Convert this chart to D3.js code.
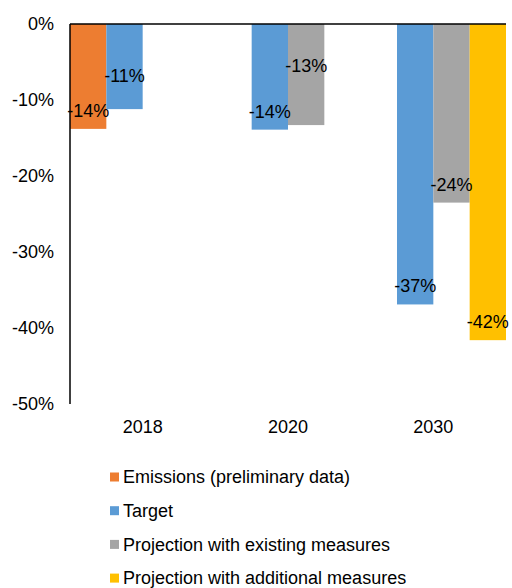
<!DOCTYPE html>
<html>
<head>
<meta charset="utf-8">
<script src="https://cdn.jsdelivr.net/npm/d3@7"></script>
<style>
  html, body { margin: 0; padding: 0; background: #fff; }
  svg { display: block; font-family: "Liberation Sans", Arial, sans-serif; }
</style>
</head>
<body>
<svg id="chart" width="512" height="588"></svg>
<script>
// Change in emissions relative to the base year, in percent
const years = ["2018", "2020", "2030"];
const seriesNames = [
  "Emissions (preliminary data)",
  "Target",
  "Projection with existing measures",
  "Projection with additional measures"
];
const seriesColors = ["#ED7D31", "#5B9BD5", "#A5A5A5", "#FFC000"];
// one array per series, aligned with years; null = no bar
const emissions = [-13.8, null, null];
const target = [-11.2, -13.9, -36.9];
const existingMeasures = [null, -13.3, -23.5];
const additionalMeasures = [null, null, -41.6];
const yTicks = [0, -10, -20, -30, -40, -50];

const seriesValues = [emissions, target, existingMeasures, additionalMeasures];

const svg = d3.select("#chart");
const plot = { left: 70, right: 506, top: 24, bottom: 404 };

const locale = d3.formatLocale({ decimal: ".", thousands: ",", grouping: [3], currency: ["", ""], minus: "-" });
const pct = v => locale.format(".0f")(v) + "%";

const x0 = d3.scaleBand().domain(years).range([plot.left, plot.right]).padding(0);
const x1 = d3.scaleBand().domain(d3.range(seriesNames.length)).range([0, x0.bandwidth()]).padding(0);
const y = d3.scaleLinear().domain([-50, 0]).range([plot.bottom, plot.top]);

// bars
const bars = [];
seriesValues.forEach((vals, s) => {
  vals.forEach((v, i) => {
    if (v !== null) bars.push({ s, year: years[i], value: v });
  });
});

svg.append("g").selectAll("rect").data(bars).join("rect")
  .attr("x", d => x0(d.year) + x1(d.s))
  .attr("width", x1.bandwidth())
  .attr("y", y(0))
  .attr("height", d => y(d.value) - y(0))
  .attr("fill", d => seriesColors[d.s]);

// y axis labels
const yAxis = d3.axisLeft(y).tickValues(yTicks).tickSize(0).tickPadding(16).tickFormat(pct);
svg.append("g").attr("transform", `translate(${plot.left},0)`).call(yAxis)
  .call(g => g.select(".domain").remove())
  .call(g => g.selectAll("text").attr("font-size", 18).attr("fill", "#000").attr("font-family", null));

// category labels along the bottom
const xAxis = d3.axisBottom(x0).tickSize(0).tickPadding(16);
svg.append("g").attr("transform", `translate(0,${plot.bottom})`).call(xAxis)
  .call(g => g.select(".domain").remove())
  .call(g => g.selectAll("text").attr("font-size", 18).attr("fill", "#000").attr("font-family", null));

// axis lines
svg.append("line")
  .attr("x1", plot.left).attr("x2", plot.left)
  .attr("y1", y(0)).attr("y2", y(-50))
  .attr("stroke", "#000").attr("stroke-width", 1.5);
svg.append("line")
  .attr("x1", plot.left).attr("x2", plot.right)
  .attr("y1", y(0)).attr("y2", y(0))
  .attr("stroke", "#000").attr("stroke-width", 1.5);

// value labels, inside the bar end; a few are lifted to stay clear of neighbours
const labelLift = { "1-2018": 15, "2-2020": 41 };
svg.append("g").selectAll("text").data(bars).join("text")
  .attr("x", d => x0(d.year) + x1(d.s) + x1.bandwidth() / 2)
  .attr("y", d => y(d.value) - 12 - (labelLift[d.s + "-" + d.year] || 0))
  .attr("text-anchor", "middle")
  .attr("font-size", 18)
  .attr("fill", "#000")
  .text(d => pct(d.value));

// legend
const legend = svg.append("g").attr("transform", "translate(110,477)");
const rows = legend.selectAll("g").data(seriesNames).join("g")
  .attr("transform", (d, i) => `translate(0,${i * 33.7})`);
rows.append("rect")
  .attr("x", 0).attr("y", -4.5).attr("width", 9).attr("height", 9)
  .attr("fill", (d, i) => seriesColors[i]);
rows.append("text")
  .attr("x", 13).attr("y", 0).attr("dy", "0.35em")
  .attr("font-size", 18).attr("fill", "#000")
  .text(d => d);
</script>
</body>
</html>
